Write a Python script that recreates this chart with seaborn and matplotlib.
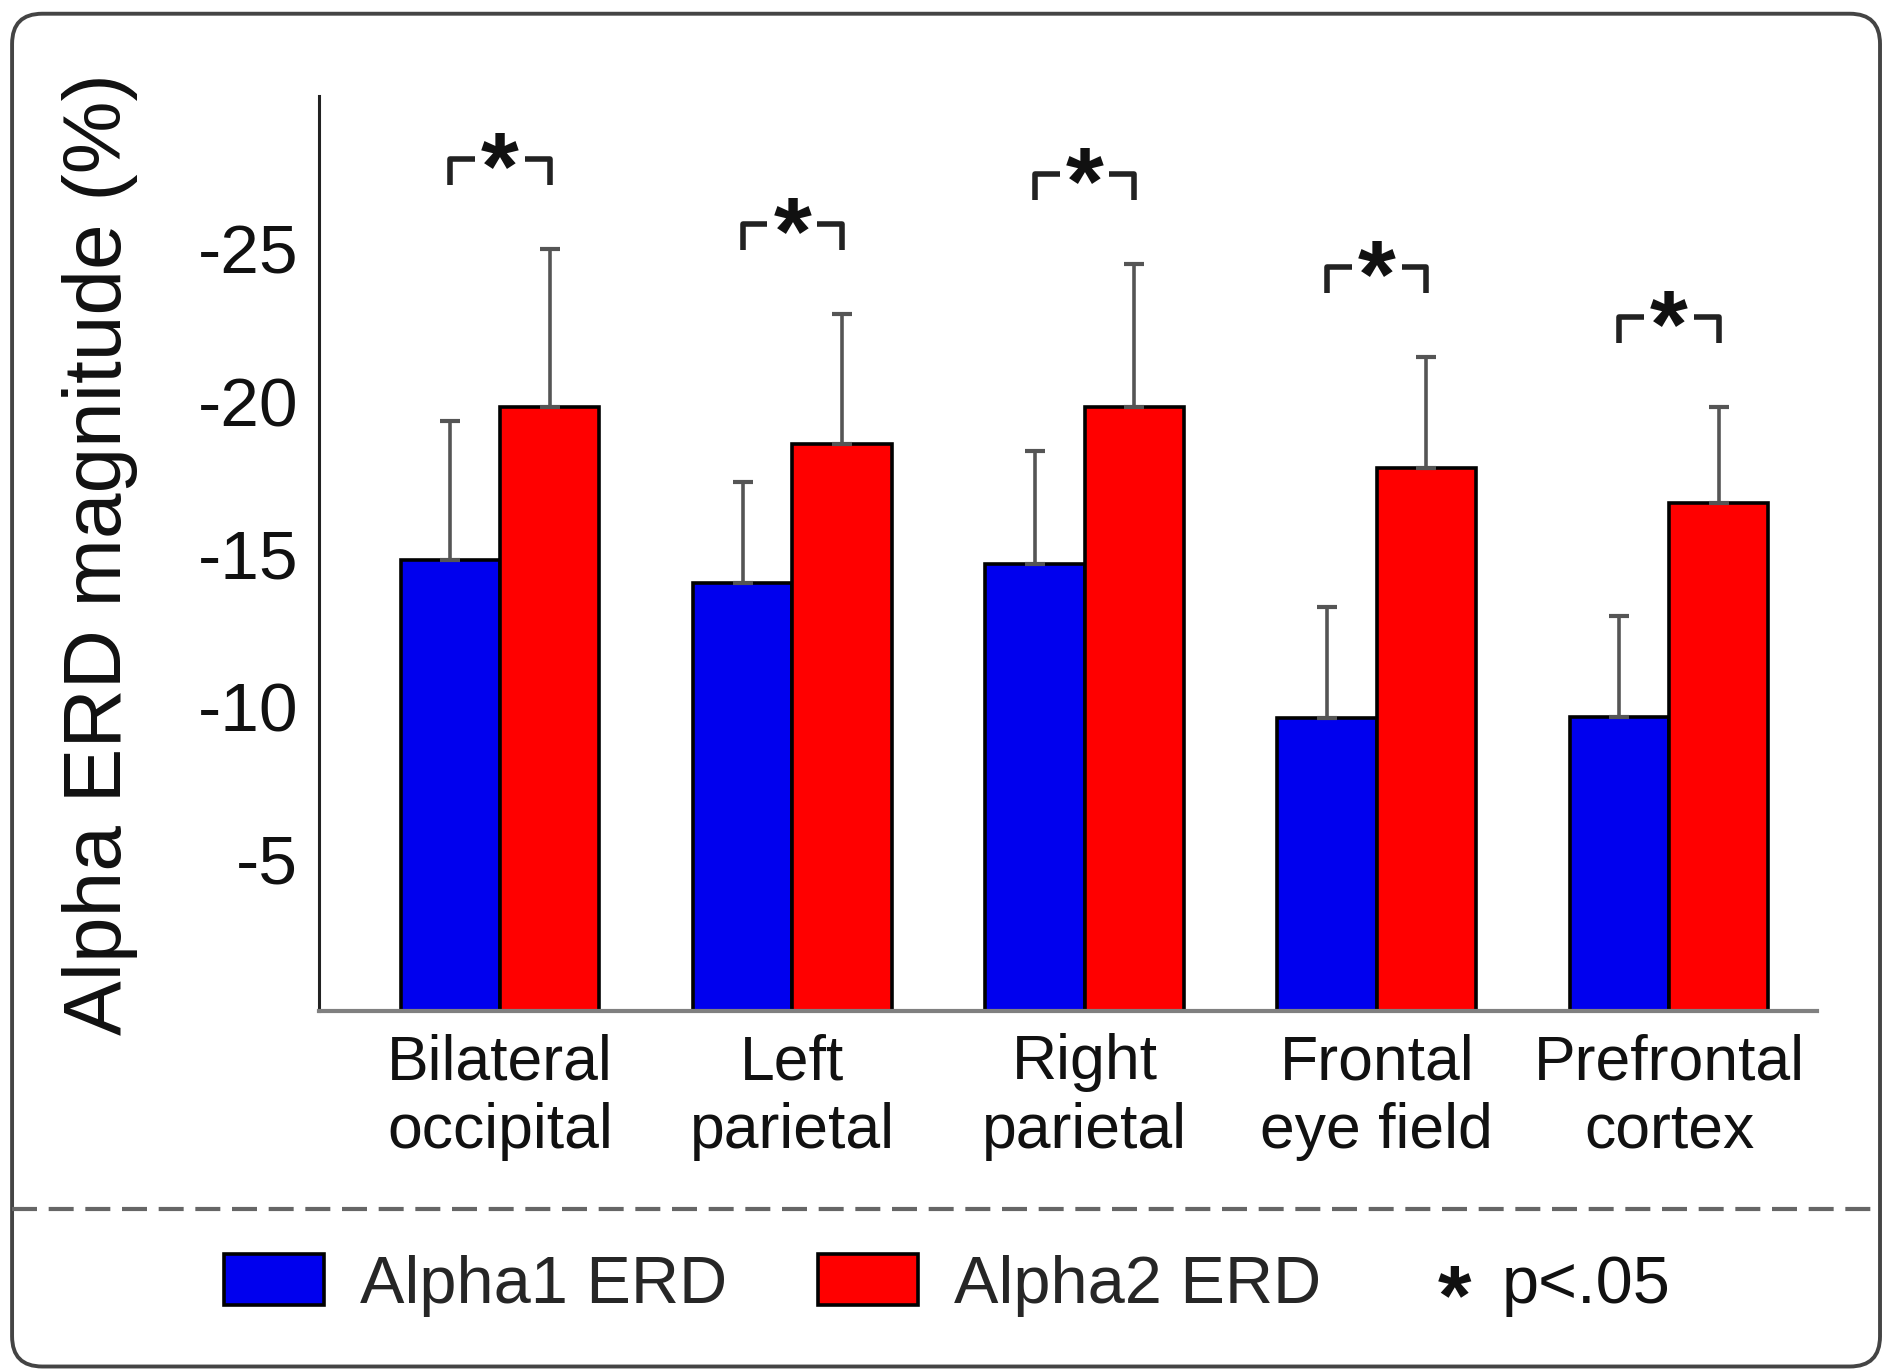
import matplotlib
matplotlib.use("Agg")
import matplotlib.pyplot as plt
import pandas as pd
import seaborn as sns
from matplotlib.lines import Line2D
from matplotlib.patches import FancyBboxPatch

REGIONS = [
    "Bilateral\noccipital",
    "Left\nparietal",
    "Right\nparietal",
    "Frontal\neye field",
    "Prefrontal\ncortex",
]
BANDS = ["Alpha1 ERD", "Alpha2 ERD"]
ALPHA1_MEAN = [-14.8, -14.05, -14.65, -9.6, -9.65]
ALPHA1_ERR = [4.55, 3.3, 3.7, 3.65, 3.3]
ALPHA2_MEAN = [-19.8, -18.6, -19.8, -17.8, -16.65]
ALPHA2_ERR = [5.2, 4.25, 4.7, 3.65, 3.15]
Y_TICKS = [-25, -20, -15, -10, -5]
SIG_LABEL = "p<.05"

BLUE = "#0000ee"
RED = "#ff0000"


def main() -> None:
    sns.set_theme(style="white")
    plt.rcParams["font.family"] = ["Liberation Sans", "DejaVu Sans"]
    plt.rcParams["axes.unicode_minus"] = False

    df = pd.DataFrame({
        "region": REGIONS * 2,
        "band": [BANDS[0]] * len(REGIONS) + [BANDS[1]] * len(REGIONS),
        "value": ALPHA1_MEAN + ALPHA2_MEAN,
    })
    errs = {BANDS[0]: ALPHA1_ERR, BANDS[1]: ALPHA2_ERR}

    fig = plt.figure(figsize=(18.87, 13.72), dpi=100)
    ax = fig.add_axes([0.169, 0.263, 0.794, 0.667])

    sns.barplot(data=df, x="region", y="value", hue="band", order=REGIONS,
                hue_order=BANDS, palette=[BLUE, RED], edgecolor="black",
                linewidth=2.6, width=0.68, errorbar=None, saturation=1,
                ax=ax)

    # one-sided error bars (toward more negative values)
    tops = []
    for cont, band in zip(ax.containers, BANDS):
        xs = [b.get_x() + b.get_width() / 2 for b in cont]
        ys = [b.get_height() for b in cont]
        e = errs[band]
        ax.errorbar(xs, ys, yerr=[e, [0] * len(e)], fmt="none",
                    ecolor="#555555", elinewidth=2.6, capsize=7,
                    capthick=3, zorder=3)
        tops.append([(x, y - v) for x, y, v in zip(xs, ys, e)])

    # significance brackets (y axis is inverted: +y points down)
    for (xl, yl), (xr, yr) in zip(tops[0], tops[1]):
        yb = min(yl, yr) - 2.95
        seg = 0.085
        kw = dict(color="#222222", lw=4, solid_capstyle="butt", zorder=4)
        ax.plot([xl, xl, xl + seg], [yb + 0.85, yb, yb], **kw)
        ax.plot([xr - seg, xr, xr], [yb, yb, yb + 0.85], **kw)
        ax.text((xl + xr) / 2, yb + 1.32, "*", ha="center", va="baseline",
                fontsize=70, fontweight="bold", color="#111111")

    ax.set_ylim(0, -30)
    ax.set_xlim(-0.62, 4.507)
    ax.set_yticks(Y_TICKS)
    ax.set_yticklabels([str(t) for t in Y_TICKS])
    ax.tick_params(axis="y", direction="in", length=7, width=2,
                   labelsize=50, pad=15, colors="#111111")
    ax.tick_params(axis="x", length=0, labelsize=45, pad=16,
                   colors="#111111")
    for lab in ax.get_xticklabels():
        lab.set_linespacing(1.2)
    ax.set_xlabel("")
    ax.set_ylabel("Alpha ERD magnitude (%)", fontsize=59, color="#111111")
    ax.yaxis.set_label_coords(-0.121, 0.5)

    for side in ["top", "right"]:
        ax.spines[side].set_visible(False)
    ax.spines["left"].set_color("#222222")
    ax.spines["left"].set_linewidth(2.2)
    ax.spines["bottom"].set_color("#808080")
    ax.spines["bottom"].set_linewidth(3)

    handles, labels = ax.get_legend_handles_labels()
    ax.get_legend().remove()
    fig.legend(handles, labels, loc="center left",
               bbox_to_anchor=(0.1185, 0.063), ncol=2, frameon=False,
               fontsize=48, handlelength=1.5, handleheight=0.8,
               handletextpad=0.55, columnspacing=1.35, borderpad=0,
               borderaxespad=0)
    fig.text(0.771, 0.051, "*", fontsize=62, fontweight="bold",
             ha="center", va="center", color="#111111")
    fig.text(0.796, 0.063, SIG_LABEL, fontsize=48, ha="left", va="center",
             color="#111111")

    # outer rounded frame and dashed divider
    fig.add_artist(FancyBboxPatch(
        (0.0064, 0.004), 0.9899, 0.986, transform=fig.transFigure,
        boxstyle="round,pad=0,rounding_size=0.016", mutation_aspect=1.375,
        facecolor="none", edgecolor="#444444", linewidth=2.8))
    fig.add_artist(Line2D([0.0064, 0.9963], [0.119, 0.119],
                          transform=fig.transFigure, color="#666666",
                          lw=3, ls=(0, (6, 2.8))))

    fig.savefig("out.png", dpi=100)


if __name__ == "__main__":
    main()
